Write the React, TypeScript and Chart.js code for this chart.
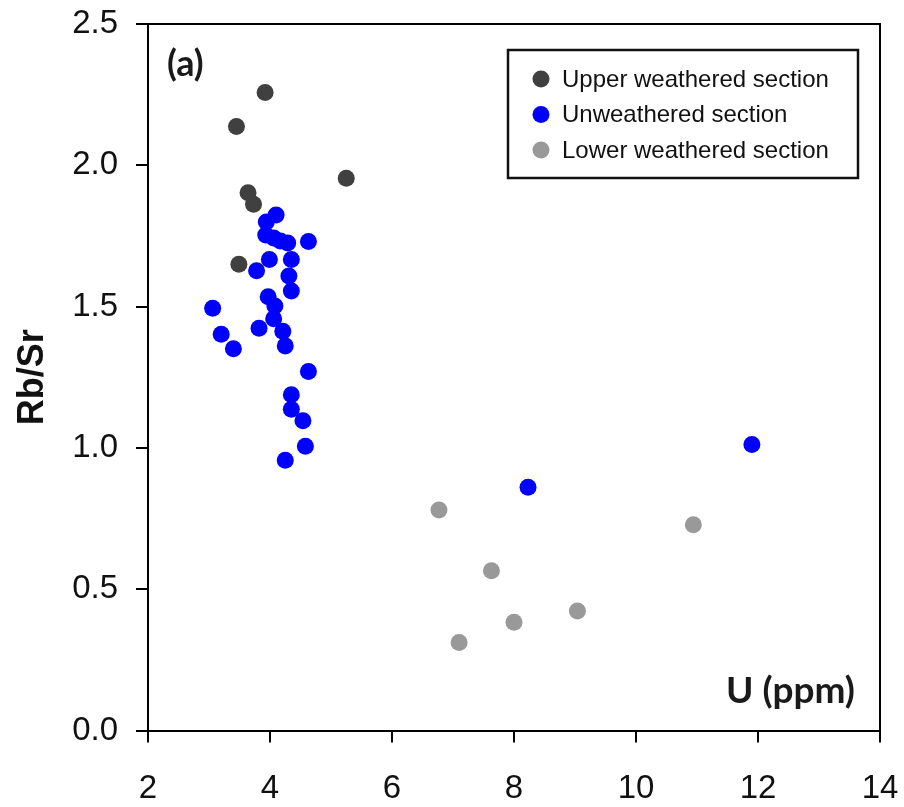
import { useEffect, useRef } from "react";
import { Chart, registerables } from "chart.js";

Chart.register(...registerables);

// ---- data ----
const upperX = [3.92, 3.45, 5.25, 3.64, 3.73, 3.49];
const upperY = [2.258, 2.137, 1.954, 1.903, 1.862, 1.65];

const unweatheredX = [
  4.1, 3.94, 3.93, 4.06, 4.17, 4.29, 4.63, 3.99, 3.78, 4.35, 4.31, 4.35, 3.97,
  4.08, 3.06, 4.06, 3.82, 4.21, 3.2, 4.25, 3.4, 4.63, 4.35, 4.35, 4.54, 4.58,
  4.25, 8.23, 11.9,
];
const unweatheredY = [
  1.824, 1.799, 1.753, 1.743, 1.732, 1.725, 1.73, 1.667, 1.627, 1.667, 1.608,
  1.555, 1.535, 1.502, 1.494, 1.457, 1.423, 1.413, 1.402, 1.361, 1.351, 1.27,
  1.188, 1.137, 1.096, 1.006, 0.956, 0.861, 1.012,
];

const lowerX = [6.77, 7.63, 8.0, 7.1, 9.04, 10.94];
const lowerY = [0.78, 0.565, 0.383, 0.311, 0.423, 0.728];

const seriesLabels = [
  "Upper weathered section",
  "Unweathered section",
  "Lower weathered section",
];
const seriesColors = ["#404040", "#0000ff", "#999999"];

const xTicks = [2, 4, 6, 8, 10, 12, 14];
const yTicks = [0, 0.5, 1.0, 1.5, 2.0, 2.5];

const panelLabel = "(a)";
const xTitle = "U (ppm)";
const yTitle = "Rb/Sr";

const toPoints = (xs: number[], ys: number[]) =>
  xs.map((x, i) => ({ x, y: ys[i] }));

const decorPlugin = {
  id: "decor",
  afterDraw(chart: any) {
    const { ctx, chartArea } = chart;
    const { left, top, right, bottom } = chartArea;
    ctx.save();
    // frame top/right
    ctx.strokeStyle = "#000";
    ctx.lineWidth = 2;
    ctx.beginPath();
    ctx.moveTo(left, top);
    ctx.lineTo(right, top);
    ctx.lineTo(right, bottom);
    ctx.stroke();

    // panel label
    ctx.fillStyle = "#1a1a1a";
    ctx.font = "bold 36px Lato";
    ctx.textAlign = "left";
    ctx.textBaseline = "alphabetic";
    ctx.fillText(panelLabel, left + 19, top + 52);

    // x title inside plot
    ctx.font = "bold 37px Lato";
    ctx.textAlign = "right";
    ctx.fillText(xTitle, right - 25, bottom - 28);

    // legend
    const lx = right - 372;
    const ly = top + 26;
    const lw = 350;
    const lh = 128;
    ctx.fillStyle = "#fff";
    ctx.fillRect(lx, ly, lw, lh);
    ctx.strokeStyle = "#111";
    ctx.lineWidth = 2.5;
    ctx.strokeRect(lx, ly, lw, lh);
    ctx.font = "24px 'Liberation Sans', Arial, sans-serif";
    ctx.textAlign = "left";
    ctx.textBaseline = "middle";
    seriesLabels.forEach((lab, i) => {
      const cy = ly + 29 + i * 35.5;
      ctx.beginPath();
      ctx.arc(lx + 33, cy, 8.5, 0, Math.PI * 2);
      ctx.fillStyle = seriesColors[i];
      ctx.fill();
      ctx.fillStyle = "#111";
      ctx.fillText(lab, lx + 54, cy + 1);
    });
    ctx.restore();
  },
};

export default function App() {
  const ref = useRef<HTMLCanvasElement | null>(null);

  useEffect(() => {
    if (!ref.current) return;
    const chart = new Chart(ref.current, {
      type: "scatter",
      data: {
        datasets: [
          {
            label: seriesLabels[0],
            data: toPoints(upperX, upperY),
            backgroundColor: seriesColors[0],
            borderWidth: 0,
            pointRadius: 8.5,
            order: 2,
          },
          {
            label: seriesLabels[1],
            data: toPoints(unweatheredX, unweatheredY),
            backgroundColor: seriesColors[1],
            borderWidth: 0,
            pointRadius: 8.5,
            order: 1,
          },
          {
            label: seriesLabels[2],
            data: toPoints(lowerX, lowerY),
            backgroundColor: seriesColors[2],
            borderWidth: 0,
            pointRadius: 8.5,
            order: 3,
          },
        ],
      },
      options: {
        animation: false,
        responsive: false,
        layout: { padding: { left: 0, top: 24, right: 24, bottom: 0 } },
        plugins: {
          legend: { display: false },
          tooltip: { enabled: false },
        },
        scales: {
          x: {
            type: "linear",
            min: 2,
            max: 14,
            afterBuildTicks: (s: any) => {
              s.ticks = xTicks.map((v) => ({ value: v }));
            },
            afterFit: (s: any) => {
              s.height = 76.5;
              s.paddingLeft = 0;
              s.paddingRight = 0;
            },
            grid: {
              drawOnChartArea: false,
              drawTicks: true,
              tickLength: 12,
              color: "#000",
              lineWidth: 2,
            },
            border: { display: true, color: "#000", width: 2 },
            ticks: {
              color: "#111",
              padding: 27,
              font: { family: "'Liberation Sans', Arial, sans-serif", size: 33 },
              callback: (v: any) => String(v),
            },
          },
          y: {
            type: "linear",
            min: 0,
            max: 2.5,
            afterBuildTicks: (s: any) => {
              s.ticks = yTicks.map((v) => ({ value: v }));
            },
            afterFit: (s: any) => {
              s.width = 148;
              s.paddingTop = 0;
              s.paddingBottom = 0;
            },
            grid: {
              drawOnChartArea: false,
              drawTicks: true,
              tickLength: 12,
              color: "#000",
              lineWidth: 2,
            },
            border: { display: true, color: "#000", width: 2 },
            ticks: {
              color: "#111",
              padding: 18,
              font: { family: "'Liberation Sans', Arial, sans-serif", size: 33 },
              callback: (v: any) => Number(v).toFixed(1),
            },
            title: {
              display: true,
              text: yTitle,
              color: "#111",
              padding: { top: 11, bottom: 0 },
              font: {
                family: "'Liberation Sans', Arial, sans-serif",
                size: 36,
                weight: "bold",
              },
            },
          },
        },
      },
      plugins: [decorPlugin],
    } as any);
    return () => chart.destroy();
  }, []);

  return (
    <div style={{ position: "absolute", left: 0, top: 0, width: 904, height: 807, background: "#fff" }}>
      <canvas ref={ref} width={904} height={807} style={{ width: 904, height: 807, display: "block" }} />
    </div>
  );
}
